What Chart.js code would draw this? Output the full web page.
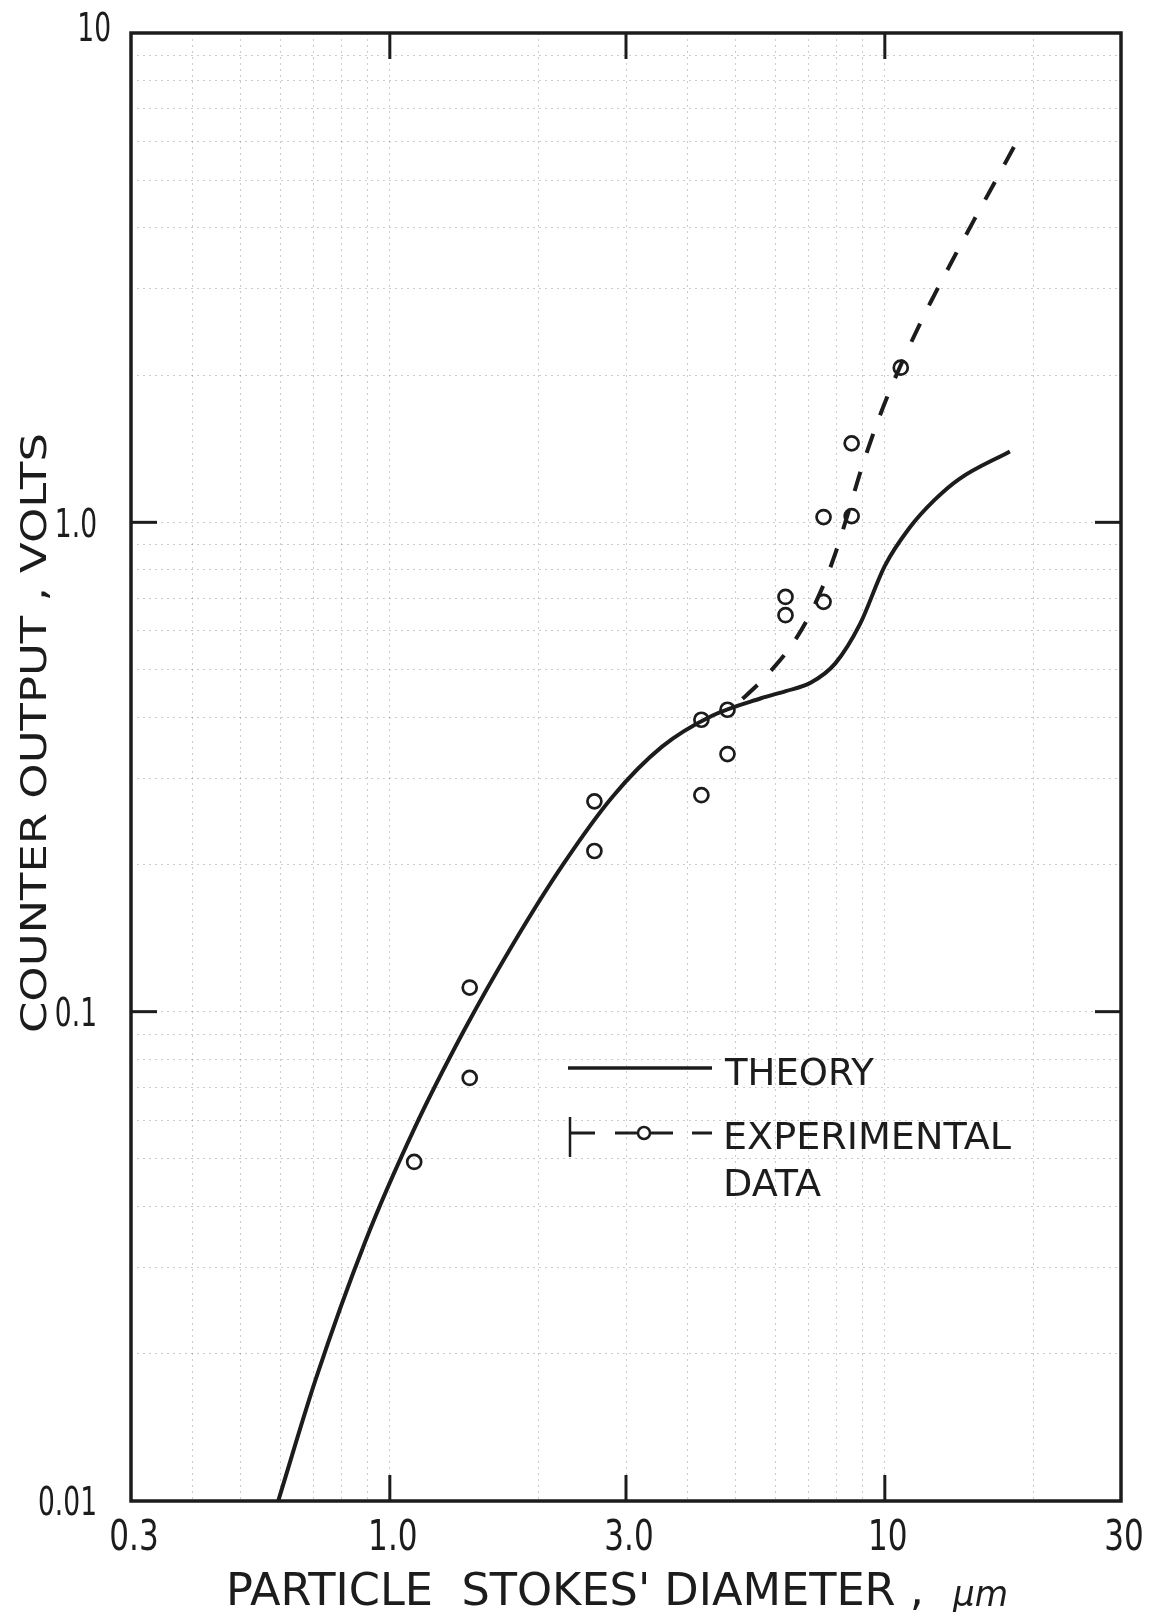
<!DOCTYPE html>
<html>
<head>
<meta charset="utf-8">
<script src="https://cdn.jsdelivr.net/npm/chart.js@4.4.1/dist/chart.umd.min.js"></script>
<style>
  html, body { margin: 0; padding: 0; background: #fff; }
  #chart { display: block; }
</style>
</head>
<body>
<canvas id="chart" width="1160" height="1612"></canvas>
<script>
//theory curve, particle stokes' diameter (um) against counter output (volts)
var theoryX = [0.595, 0.708, 0.891, 1.122, 1.413, 1.778, 2.239, 2.818, 3.548, 4.467, 5.623, 6.310, 7.079, 7.943, 8.913, 10.0, 11.22, 12.59, 14.13, 17.89];
var theoryY = [0.0100, 0.0177, 0.0338, 0.0578, 0.0916, 0.138, 0.200, 0.275, 0.348, 0.402, 0.437, 0.452, 0.470, 0.515, 0.620, 0.815, 0.975, 1.110, 1.226, 1.396];

//dashed line drawn through the experimental data (listed from its top end)
var fitX = [18.23, 16.76, 15.13, 13.59, 12.38, 11.23, 10.28, 9.59, 8.94, 8.46, 7.96, 7.49, 6.92, 6.36, 5.61, 5.07];
var fitY = [5.85, 5.00, 4.14, 3.38, 2.82, 2.30, 1.880, 1.570, 1.274, 1.057, 0.869, 0.738, 0.624, 0.546, 0.472, 0.429];

//experimental points
var expX = [1.12, 1.45, 1.45, 2.59, 2.59, 4.26, 4.26, 4.81, 4.81, 6.30, 6.30, 7.52, 7.52, 8.57, 8.57, 10.77];
var expY = [0.0493, 0.112, 0.0732, 0.269, 0.213, 0.395, 0.277, 0.414, 0.336, 0.704, 0.646, 1.025, 0.688, 1.03, 1.45, 2.07];

//axis ticks and their labels
var xTickValues = [0.3, 1, 3, 10, 30];
var xTickLabels = ['0.3', '1.0', '3.0', '10', '30'];
var yTickValues = [0.01, 0.1, 1, 10];
var yTickLabels = ['0.01', '0.1', '1.0', '10'];

var ink = '#1c1c1c';
var font = '"DejaVu Sans", "Liberation Sans", sans-serif';

//turn two arrays into chart.js points
function toPoints(xs, ys)
{
    return xs.map(function(x, i){ return {x: x, y: ys[i]}; });
}

//graph paper lines, 1..9 in every decade
function paperTicks(min, max)
{
    var out = [];
    for(var e = -3; e <= 2; e++)
        for(var m = 1; m < 10; m++)
        {
            var v = parseFloat((m * Math.pow(10, e)).toPrecision(3));
            if(v >= min * 0.9999 && v <= max * 1.0001)
                out.push({value: v});
        }
    return out;
}

function line(ctx, x1, y1, x2, y2)
{
    ctx.beginPath();
    ctx.moveTo(x1, y1);
    ctx.lineTo(x2, y2);
    ctx.stroke();
}

//draw text squeezed horizontally, like the narrow stencil lettering
//align: 'left', 'center' or 'right'
function squeezeText(ctx, text, x, cy, size, squeeze, align, rotate, style)
{
    ctx.save();
    ctx.translate(x, cy);
    if(rotate)
        ctx.rotate(-Math.PI / 2);
    ctx.scale(squeeze, 1);
    ctx.font = (style ? style + ' ' : '') + size + 'px ' + font;
    ctx.textAlign = align;
    ctx.textBaseline = 'alphabetic';
    ctx.fillText(text, 0, size * 0.365);
    ctx.restore();
}

//measured width of a text at a font size
function widthOf(ctx, text, size)
{
    ctx.save();
    ctx.font = size + 'px ' + font;
    var w = ctx.measureText(text).width;
    ctx.restore();
    return w;
}

//frame, inward ticks, tick labels, titles and the legend box
var paperPlugin = {
    id: 'paper',
    afterDraw: function(chart){
        var ctx = chart.ctx, a = chart.chartArea;
        var xs = chart.scales.x, ys = chart.scales.y;
        ctx.save();
        ctx.strokeStyle = ink;
        ctx.fillStyle = ink;
        ctx.lineCap = 'butt';

        //frame
        ctx.lineWidth = 3.5;
        ctx.strokeRect(a.left, a.top, a.right - a.left, a.bottom - a.top);

        //short ticks pointing into the plot
        ctx.lineWidth = 3;
        [1, 3, 10].forEach(function(v){
            var px = xs.getPixelForValue(v);
            line(ctx, px, a.bottom, px, a.bottom - 26);
            line(ctx, px, a.top, px, a.top + 26);
        });
        [0.1, 1].forEach(function(v){
            var py = ys.getPixelForValue(v);
            line(ctx, a.left, py, a.left + 26, py);
            line(ctx, a.right, py, a.right - 26, py);
        });

        //tick labels, placed by the scales
        xTickValues.forEach(function(v, i){
            squeezeText(ctx, xTickLabels[i], xs.getPixelForValue(v) + 3, a.bottom + 34, 42, 0.74, 'center');
        });
        yTickValues.forEach(function(v, i){
            //the top label sits a little above and right of the corner
            var top = (i === yTickValues.length - 1);
            squeezeText(ctx, yTickLabels[i], a.left - (top ? 20 : 34), ys.getPixelForValue(v) - (top ? 6 : 0), 39, 0.68, 'right');
        });

        //axis titles
        var yt = 'COUNTER OUTPUT , VOLTS';
        squeezeText(ctx, yt, 33, 733, 36, 600 / widthOf(ctx, yt, 36), 'center', true);
        var xt = "PARTICLE  STOKES' DIAMETER ,";
        squeezeText(ctx, xt, 226, 1589, 45, 698 / widthOf(ctx, xt, 45), 'left');
        squeezeText(ctx, '\u03bcm', 953, 1593, 36, 0.95, 'left', false, 'italic');

        //legend
        var lx = a.left + 437, ly = a.top + 1035;
        ctx.lineWidth = 3.5;
        line(ctx, lx, ly, lx + 144, ly);
        squeezeText(ctx, 'THEORY', lx + 157, ly + 3, 37, 1, 'left');

        var ey = ly + 65;
        ctx.lineWidth = 2.5;
        line(ctx, lx + 2, ey - 16, lx + 2, ey + 24);
        ctx.lineWidth = 3;
        line(ctx, lx + 2, ey, lx + 27, ey);
        line(ctx, lx + 47, ey, lx + 69, ey);
        line(ctx, lx + 83, ey, lx + 105, ey);
        line(ctx, lx + 124, ey, lx + 144, ey);
        ctx.lineWidth = 2.5;
        ctx.beginPath();
        ctx.arc(lx + 76, ey, 6, 0, Math.PI * 2);
        ctx.fillStyle = '#fff';
        ctx.fill();
        ctx.stroke();
        ctx.fillStyle = ink;
        squeezeText(ctx, 'EXPERIMENTAL', lx + 155, ey + 2, 37, 1.03, 'left');
        squeezeText(ctx, 'DATA', lx + 155, ey + 49, 37, 1.03, 'left');

        ctx.restore();
    }
};

var chart = new Chart(document.getElementById('chart'), {
    type: 'scatter',
    data: {
        datasets: [
            {
                label: 'THEORY',
                data: toPoints(theoryX, theoryY),
                showLine: true,
                borderColor: ink,
                borderWidth: 4,
                pointRadius: 0,
                cubicInterpolationMode: 'monotone'
            },
            {
                label: 'EXPERIMENTAL DATA fit',
                data: toPoints(fitX, fitY),
                showLine: true,
                borderColor: ink,
                borderWidth: 4,
                borderDash: [20, 20],
                pointRadius: 0,
                tension: 0.3
            },
            {
                label: 'EXPERIMENTAL DATA',
                data: toPoints(expX, expY),
                showLine: false,
                pointStyle: 'circle',
                pointRadius: 7,
                borderWidth: 2.7,
                borderColor: ink,
                backgroundColor: 'rgba(255,255,255,0)'
            }
        ]
    },
    options: {
        responsive: false,
        animation: false,
        devicePixelRatio: 1,
        layout: { padding: { top: 33, right: 39, left: 0, bottom: 0 } },
        plugins: {
            legend: { display: false },
            tooltip: { enabled: false }
        },
        scales: {
            x: {
                type: 'logarithmic',
                min: 0.3,
                max: 30,
                afterBuildTicks: function(scale){ scale.ticks = paperTicks(0.3, 30); },
                afterFit: function(scale){ scale.height = 111; },
                border: { display: false, dash: [2, 4] },
                grid: { drawTicks: false, color: 'rgba(0,0,0,0.2)', lineWidth: 1 },
                ticks: { display: false }
            },
            y: {
                type: 'logarithmic',
                min: 0.01,
                max: 10,
                afterBuildTicks: function(scale){ scale.ticks = paperTicks(0.01, 10); },
                afterFit: function(scale){ scale.width = 131; },
                border: { display: false, dash: [2, 4] },
                grid: { drawTicks: false, color: 'rgba(0,0,0,0.2)', lineWidth: 1 },
                ticks: { display: false }
            }
        }
    },
    plugins: [paperPlugin]
});
</script>
</body>
</html>
